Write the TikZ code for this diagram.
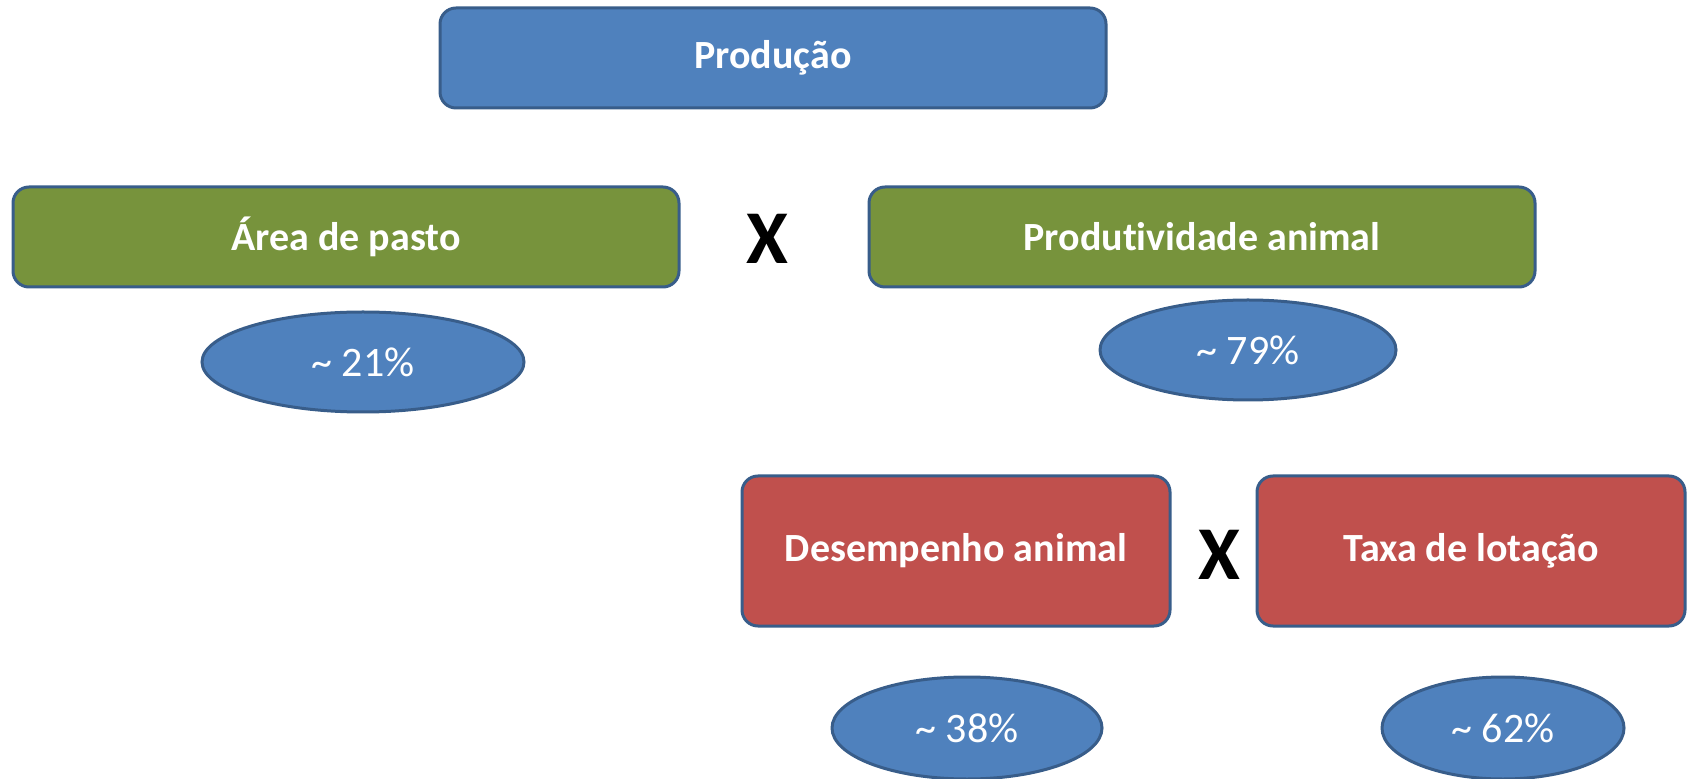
\documentclass[tikz,border=0pt]{standalone}
\usepackage{fontspec}
\setmainfont[Ligatures=NoCommon]{Carlito}
\usetikzlibrary{shapes.geometric}

\definecolor{boxblue}{HTML}{4F81BD}
\definecolor{boxgreen}{HTML}{77933C}
\definecolor{boxred}{HTML}{C0504D}
\definecolor{edgeblue}{HTML}{385D8A}

\tikzset{
  factor/.style={draw=edgeblue, line width=1.5pt, rounded corners=8pt,
    text=white, inner sep=0pt, font=\fontsize{20}{24}\selectfont\bfseries},
  share/.style={ellipse, draw=edgeblue, line width=1.5pt, fill=boxblue,
    text=white, inner sep=0pt, font=\fontsize{21}{24}\selectfont},
  times/.style={inner sep=0pt, font=\fontsize{38}{40}\selectfont\bfseries}
}

\begin{document}
\begin{tikzpicture}[x=0.5pt,y=-0.5pt]
    \useasboundingbox (0,0) rectangle (1689,779);

    % top
    \node[factor, fill=boxblue, minimum width=333pt, minimum height=50pt] (producao) at (773,58) {Produção};

    % first split
    \node[factor, fill=boxgreen, minimum width=333pt, minimum height=50pt] (area) at (346,237) {Área de pasto};
    \node[times] (x1) at (767,239) {X};
    \node[factor, fill=boxgreen, minimum width=333pt, minimum height=50pt] (produtividade) at (1202,237) {Produtividade animal};

    \node[share, minimum width=161pt, minimum height=50pt] (p21) at (363,362) {\~{} 21\%};
    \node[share, minimum width=148pt, minimum height=50pt] (p79) at (1248,350) {\~{} 79\%};

    % second split
    \node[factor, fill=boxred, minimum width=214pt, minimum height=75pt] (desempenho) at (956,551) {Desempenho animal};
    \node[times] (x2) at (1219,555) {X};
    \node[factor, fill=boxred, minimum width=214pt, minimum height=75pt] (taxa) at (1471,551) {Taxa de lotação};

    \node[share, minimum width=135pt, minimum height=51pt] (p38) at (967,728) {\~{} 38\%};
    \node[share, minimum width=121pt, minimum height=51pt] (p62) at (1503,728) {\~{} 62\%};

\end{tikzpicture}
\end{document}
